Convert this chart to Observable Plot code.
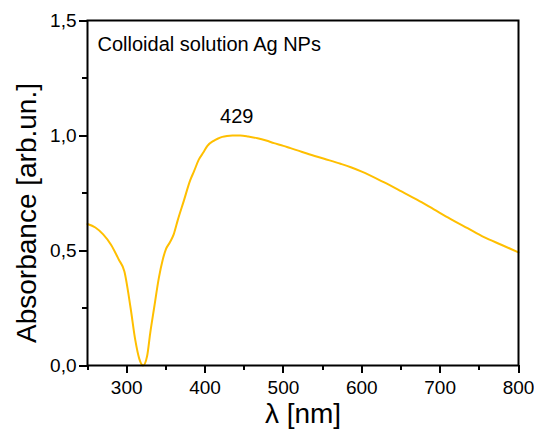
<!DOCTYPE html>
<html><head><meta charset="utf-8">
<script src="https://cdn.jsdelivr.net/npm/d3@7"></script>
<script src="https://cdn.jsdelivr.net/npm/@observablehq/plot@0.6"></script>
<style>html,body{margin:0;padding:0;background:#fff} svg{display:block;font-family:'Liberation Sans',Arial,sans-serif;}</style>
</head><body><div id="chart"></div>
<script>
const wavelength = [250,260,270,280,290,297,305,311,316,321,326,330,335,341,346,350,355,360,365,373,381,386,392,398,403,411,416,422,428,435,445,455,467,478,488,500,509,520,530,552,573,586,600,628,650,671,692,713,735,756,778,800];
const absorbance = [0.615,0.60,0.57,0.525,0.46,0.41,0.25,0.11,0.03,0.0,0.04,0.14,0.25,0.38,0.46,0.505,0.535,0.57,0.63,0.717,0.805,0.845,0.895,0.927,0.955,0.977,0.986,0.994,0.998,1.0,1.0,0.996,0.988,0.978,0.967,0.955,0.945,0.933,0.922,0.899,0.877,0.862,0.843,0.797,0.758,0.720,0.679,0.638,0.597,0.558,0.525,0.492];
const xMajorTicks = [300,400,500,600,700,800];
const xMinorTicks = [250,350,450,550,650,750];
const yMajorTicks = [0,0.5,1.0,1.5];
const yMinorTicks = [0.25,0.75,1.25];
const peakLabels = [{x:429, y:1.0, t:"429"}];
const titleText = "Colloidal solution Ag NPs";
const xLabel = "λ [nm]";
const yLabel = "Absorbance [arb.un.]";

const W = 534, H = 437, mL = 87, mR = 16, mT = 20, mB = 72;
const xDomain = [250, 800], yDomain = [0, 1.5];
const xPerPx = (xDomain[1]-xDomain[0]) / (W - mL - mR);
const yPerPx = (yDomain[1]-yDomain[0]) / (H - mT - mB);
const data = wavelength.map((w,i)=>({w, a: absorbance[i]}));
const fmt = d => d.toFixed(1).replace(".", ",");
const xTicks = (vals, len) => Plot.ruleX(vals, {x:d=>d, y1:yDomain[0], y2:yDomain[0] - len*yPerPx, stroke:"black", strokeWidth:2, shapeRendering:"crispEdges"});
const yTicks = (vals, len) => Plot.ruleY(vals, {y:d=>d, x1:xDomain[0], x2:xDomain[0] - len*xPerPx, stroke:"black", strokeWidth:2, shapeRendering:"crispEdges"});
const chart = Plot.plot({
  width:W, height:H, marginLeft:mL, marginRight:mR, marginTop:mT, marginBottom:mB,
  x:{domain:xDomain}, y:{domain:yDomain},
  marks:[
    xTicks(xMajorTicks, 8),
    xTicks(xMinorTicks, 5),
    yTicks(yMajorTicks, 8),
    yTicks(yMinorTicks, 5),
    Plot.line(data,{x:"w",y:"a",stroke:"#ffbf00",strokeWidth:2,curve:"monotone-x"}),
    Plot.frame({stroke:"#000",strokeWidth:2}),
    Plot.axisX({ticks:xMajorTicks, tickSize:0, tickPadding:15, tickFormat:d=>String(d), label:null, fontSize:19, fill:"#000"}),
    Plot.axisY({ticks:yMajorTicks, tickSize:0, tickPadding:11, tickFormat:fmt, label:null, fontSize:19, fill:"#000"}),
    Plot.text([titleText], {frameAnchor:"top-left", textAnchor:"start", lineAnchor:"middle", dx:10, dy:24, fontSize:20, fill:"#000"}),
    Plot.text(peakLabels, {x:"x", y:"y", text:"t", lineAnchor:"middle", dx:9, dy:-19, fontSize:20, fill:"#000"}),
    Plot.text([xLabel], {frameAnchor:"bottom", textAnchor:"middle", lineAnchor:"middle", dy:49, fontSize:28, fill:"#000"}),
    Plot.text([yLabel], {frameAnchor:"left", textAnchor:"middle", lineAnchor:"middle", rotate:-90, dx:-60, dy:20, fontSize:28, fill:"#000"})
  ]
});
document.getElementById("chart").appendChild(chart);
</script>
</body></html>
